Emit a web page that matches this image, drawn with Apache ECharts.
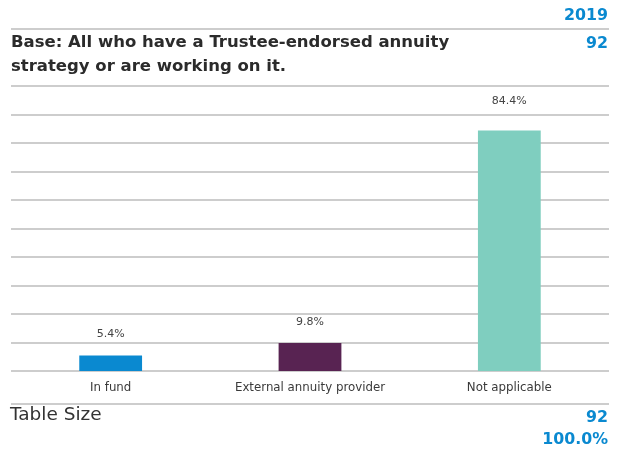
<!DOCTYPE html>
<html>
<head>
<meta charset="utf-8">
<script src="https://cdn.jsdelivr.net/npm/echarts@6/dist/echarts.min.js"></script>
<style>
  html, body { margin: 0; padding: 0; background: #fff; }
  #chart { width: 622px; height: 451px; }
</style>
</head>
<body>
<div id="chart"></div>
<script>
// Answer categories and share of respondents (%)
const categories = ['In fund', 'External annuity provider', 'Not applicable'];
const shares = [5.4, 9.8, 84.4];
const barColors = ['#0a89d0', '#582352', '#7fcebf'];
const labelGaps = [16, 15, 24];

const yearLabel = '2019';
const baseText = 'Base: All who have a Trustee-endorsed annuity\nstrategy or are working on it.';
const baseCount = '92';
const tableSize = '92';
const tableShare = '100.0%';

const blue = '#0a89d0';
const rule = '#bdbdbd';
const font = '"DejaVu Sans", "Noto Sans", sans-serif';

const chart = echarts.init(document.getElementById('chart'), null, { renderer: 'canvas' });

chart.setOption({
  animation: false,
  grid: { left: 11, right: 13, top: 86, bottom: 80, containLabel: false },
  xAxis: {
    type: 'category',
    data: categories,
    axisLine: { show: false },
    axisTick: { show: false },
    axisLabel: { color: '#3a3a3a', fontSize: 11.8, fontFamily: font, margin: 11 }
  },
  yAxis: {
    type: 'value',
    min: 0,
    max: 100,
    interval: 10,
    axisLabel: { show: false },
    axisLine: { show: false },
    axisTick: { show: false },
    splitLine: { lineStyle: { color: rule, width: 1.5 } }
  },
  series: [{
    type: 'bar',
    barWidth: '31.5%',
    data: shares.map((v, i) => ({
      value: v,
      itemStyle: { color: barColors[i] },
      label: { distance: labelGaps[i] }
    })),
    label: {
      show: true,
      position: 'top',
      color: '#444',
      fontSize: 11,
      fontFamily: font,
      formatter: p => p.value.toFixed(1) + '%'
    }
  }],
  graphic: [
    { type: 'line', shape: { x1: 11, y1: 29, x2: 609, y2: 29 }, style: { stroke: rule, lineWidth: 1.5 } },
    { type: 'line', shape: { x1: 11, y1: 404, x2: 609, y2: 404 }, style: { stroke: rule, lineWidth: 1.5 } },
    { type: 'text', right: 14, top: 8, style: { text: yearLabel, fill: blue, font: 'bold 15.8px ' + font } },
    { type: 'text', right: 14, top: 36, style: { text: baseCount, fill: blue, font: 'bold 15.8px ' + font } },
    { type: 'text', left: 11, top: 31, style: { text: baseText, fill: '#2b2b2b', font: 'bold 16.5px ' + font, lineHeight: 24 } },
    { type: 'text', left: 10, top: 406, style: { text: 'Table Size', fill: '#333', font: '18.5px ' + font } },
    { type: 'text', right: 14, top: 410, style: { text: tableSize, fill: blue, font: 'bold 15.8px ' + font } },
    { type: 'text', right: 14, top: 432, style: { text: tableShare, fill: blue, font: 'bold 15.8px ' + font } }
  ]
});
</script>
</body>
</html>
